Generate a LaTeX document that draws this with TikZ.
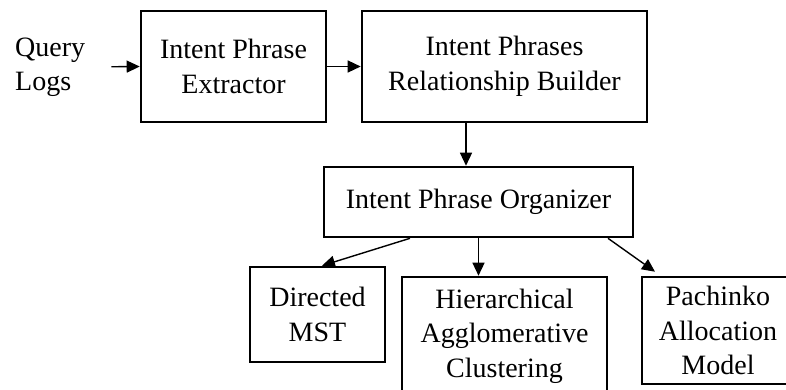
\documentclass[tikz,border=0pt]{standalone}
\usepackage{fontspec}
\setmainfont{Liberation Serif}
\usetikzlibrary{arrows.meta}
\begin{document}
\begin{tikzpicture}[x=1pt,y=-1pt,
  every node/.style={font=\fontsize{28}{34.5}\selectfont, inner sep=0pt},
  stagebox/.style={draw, line width=2.6pt, align=center, minimum width=#1},
  arr/.style={line width=1.4pt, -{Triangle[length=13pt,width=12pt]}}]
\useasboundingbox (0,0) rectangle (786,389);
\clip (0,0) rectangle (786,389);
\fill[white] (0,0) rectangle (786,389);

% pipeline boxes
\node[align=left, anchor=west] (q) at (15,67) {Query\\Logs};
\node[stagebox=185pt, minimum height=111pt] (ext) at (233.5,66.5) {Intent Phrase\\Extractor};
\node[stagebox=285pt, minimum height=111pt] (rel) at (504.5,66.5) {Intent Phrases\\Relationship Builder};
\node[stagebox=309pt, minimum height=70pt] (org) at (478.5,202) {Intent Phrase Organizer};
\node[stagebox=135pt, minimum height=95pt] (mst) at (317.5,314.5) {Directed\\MST};
\node[stagebox=205pt, minimum height=118pt] (hac) at (504.5,336) {Hierarchical\\Agglomerative\\Clustering};
\node[stagebox=152pt, minimum height=107pt] (pam) at (718,330.5) {Pachinko\\Allocation\\Model};

% connectors
\draw[arr, shorten <=26pt] (q.east) -- (ext.west);
\draw[arr] (ext.east) -- (rel.west);
\draw[arr] ([xshift=-38.5pt]rel.south) -- ([xshift=-12.5pt]org.north);
\draw[arr] ([xshift=-68.5pt]org.south) -- ([xshift=4.5pt]mst.north);
\draw[arr] (org.south) -- (org.south |- hac.north);
\draw[arr] ([xshift=129.5pt]org.south) -- ([xshift=-63pt,yshift=4pt]pam.north);
\end{tikzpicture}
\end{document}
